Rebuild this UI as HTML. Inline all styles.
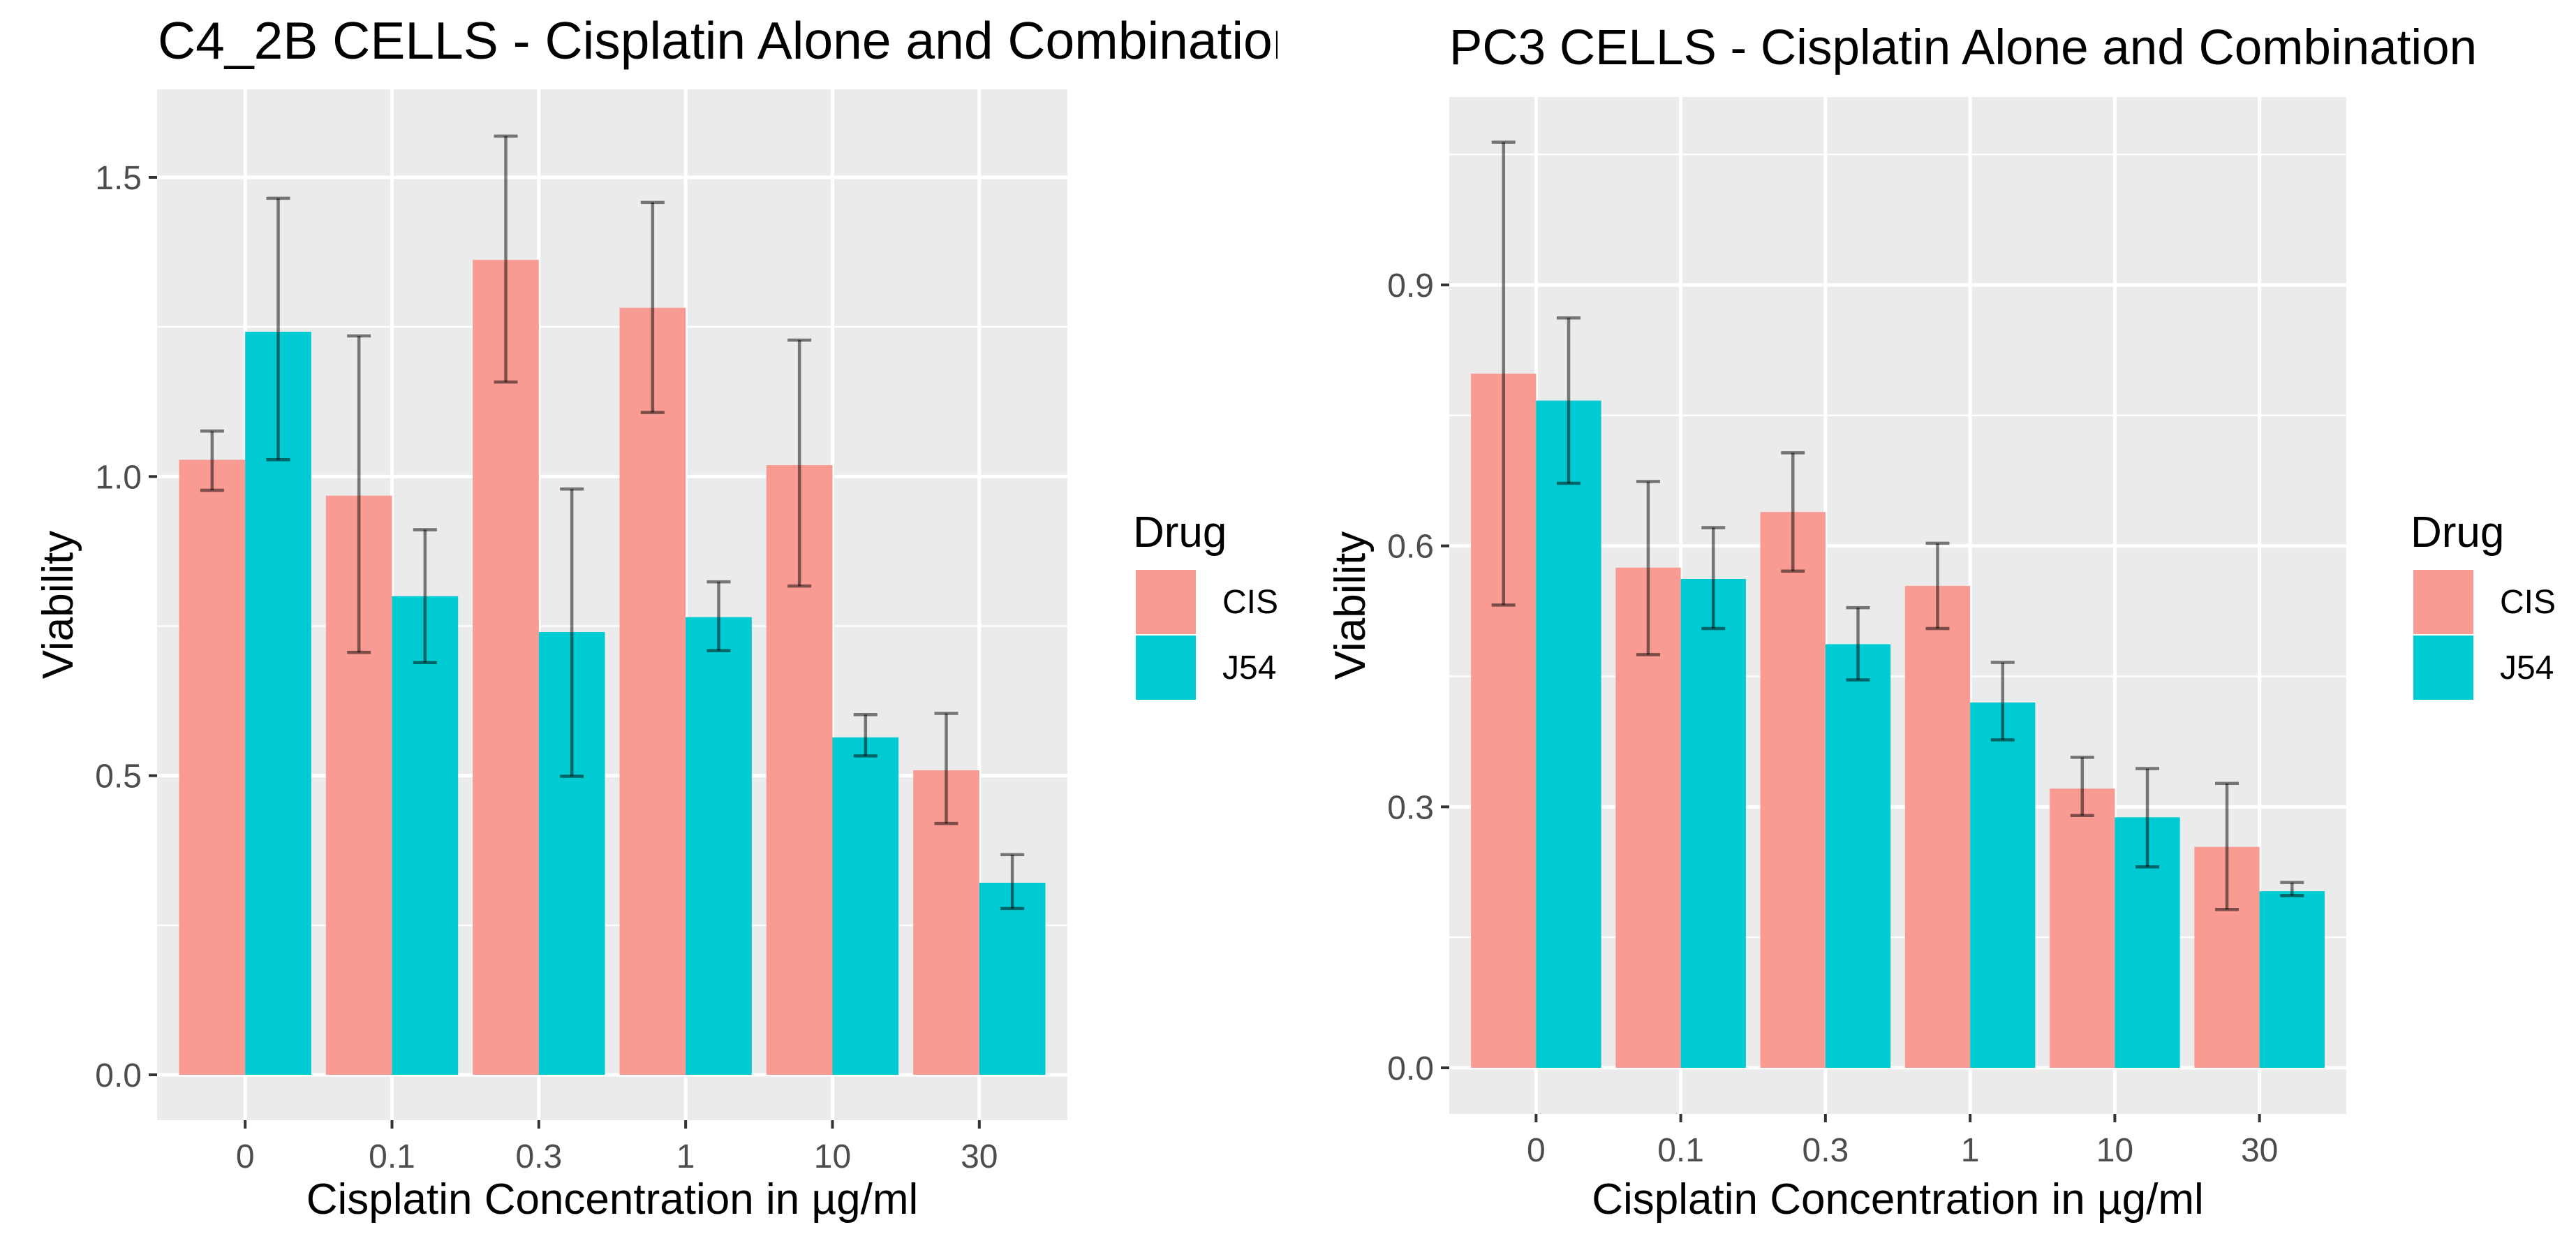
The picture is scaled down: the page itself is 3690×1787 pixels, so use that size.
<!DOCTYPE html>
<html><head><meta charset="utf-8"><style>
html,body{margin:0;padding:0;background:#fff;}
svg{display:block;font-family:"Liberation Sans",Arial,sans-serif;}
</style></head><body>
<svg id="fig" width="3690" height="1787" viewBox="0 0 3690 1787" xmlns="http://www.w3.org/2000/svg"></svg>
<script>
const categories = ["0","0.1","0.3","1","10","30"];
const leftCIS = [1.028,0.968,1.362,1.282,1.019,0.509];
const leftCISlo = [0.977,0.706,1.158,1.107,0.817,0.42];
const leftCIShi = [1.076,1.235,1.569,1.458,1.228,0.604];
const leftJ54 = [1.242,0.8,0.74,0.765,0.564,0.321];
const leftJ54lo = [1.028,0.689,0.499,0.709,0.533,0.278];
const leftJ54hi = [1.465,0.911,0.979,0.824,0.602,0.368];
const leftTicks = [0,0.5,1.0,1.5];
const leftTickLabels = ["0.0","0.5","1.0","1.5"];
const leftMinor = [0.25,0.75,1.25];

const rightCIS = [0.798,0.575,0.639,0.554,0.321,0.254];
const rightCISlo = [0.532,0.475,0.571,0.505,0.29,0.182];
const rightCIShi = [1.064,0.674,0.707,0.603,0.357,0.327];
const rightJ54 = [0.767,0.562,0.487,0.42,0.288,0.203];
const rightJ54lo = [0.672,0.505,0.446,0.377,0.231,0.198];
const rightJ54hi = [0.862,0.621,0.529,0.466,0.344,0.213];
const rightTicks = [0,0.3,0.6,0.9];
const rightTickLabels = ["0.0","0.3","0.6","0.9"];
const rightMinor = [0.15,0.45,0.75,1.05];

const NS = "http://www.w3.org/2000/svg";
const svg = document.getElementById('fig');
function mk(tag, attrs, parent, text){
  const e = document.createElementNS(NS, tag);
  for (const k in attrs) e.setAttribute(k, attrs[k]);
  if (text !== undefined) e.textContent = text;
  (parent||svg).appendChild(e);
  return e;
}
function panel(cfg){
  const g = mk('g', {});
  
  
  const {x0,x1,yTop,yBot,y0px,pxPerUnit} = cfg;
  const yS = v => y0px - v*pxPerUnit;
  const step = (x1-x0)/(categories.length+0.2);
  const xS = i => x0 + (i+0.6)*step;
  const bg = mk('rect',{x:x0,y:yTop,width:x1-x0,height:yBot-yTop,fill:'#ebebeb'},g);
  
  
  cfg.minor.forEach(v=>{
    const l = mk('line',{x1:x0,x2:x1,y1:yS(v),y2:yS(v),stroke:'#fff','stroke-width':2.5},g);
    
    
  });
  cfg.ticks.forEach((v,i)=>{
    const l = mk('line',{x1:x0,x2:x1,y1:yS(v),y2:yS(v),stroke:'#fff','stroke-width':5},g);
    
    
    const tk = mk('line',{x1:x0-12,x2:x0,y1:yS(v),y2:yS(v),stroke:'#333','stroke-width':4},g);
    
    
    const t = mk('text',{x:x0-22,y:yS(v)+17,'text-anchor':'end','font-size':48,fill:'#4d4d4d'},g,cfg.tickLabels[i]);
    
    
  });
  categories.forEach((c,i)=>{
    const l = mk('line',{x1:xS(i),x2:xS(i),y1:yTop,y2:yBot,stroke:'#fff','stroke-width':5},g);
    
    
    const tk = mk('line',{x1:xS(i),x2:xS(i),y1:yBot,y2:yBot+12,stroke:'#333','stroke-width':4},g);
    
    
    const t = mk('text',{x:xS(i),y:yBot+68,'text-anchor':'middle','font-size':48,fill:'#4d4d4d'},g,c);
    
    
  });
  const bw = step*0.45;
  const series = [
    {vals:cfg.cis,lo:cfg.cisLo,hi:cfg.cisHi,col:'#f99a93',off:-1,nm:'cis'},
    {vals:cfg.j54,lo:cfg.j54Lo,hi:cfg.j54Hi,col:'#00cbd2',off:0,nm:'j54'}];
  series.forEach(s=>{
    s.vals.forEach((v,i)=>{
      const bx = xS(i)+s.off*bw;
      const r = mk('rect',{x:bx,y:yS(v),width:bw,height:yS(0)-yS(v),fill:s.col},g);
      
      
    });
  });
  series.forEach(s=>{
    s.vals.forEach((v,i)=>{
      const cx = xS(i)+s.off*bw+bw/2;
      const eg = mk('g',{stroke:'#000','stroke-opacity':0.5,'stroke-width':4.5},g);
      
      
      mk('line',{x1:cx,x2:cx,y1:yS(s.hi[i]),y2:yS(s.lo[i])},eg);
      mk('line',{x1:cx-17,x2:cx+17,y1:yS(s.hi[i]),y2:yS(s.hi[i])},eg);
      mk('line',{x1:cx-17,x2:cx+17,y1:yS(s.lo[i]),y2:yS(s.lo[i])},eg);
    });
  });
  const xt = mk('text',{x:(x0+x1)/2,y:1738,'text-anchor':'middle','font-size':62,fill:'#000'},g,'Cisplatin Concentration in µg/ml');
  
  
  const cy = (yTop+yBot)/2;
  const yt = mk('text',{x:0,y:0,transform:`translate(${cfg.ylabX},${cy}) rotate(-90)`,'text-anchor':'middle','font-size':62,fill:'#000'},g,'Viability');
  
  
  const tt = mk('text',{x:cfg.titleX,y:cfg.titleY,'font-size':cfg.titleSize,fill:'#000'},g,cfg.title);
  
  
  const lg = mk('g',{},g);
  
  
  const lt = mk('text',{x:cfg.legX,y:783,'font-size':62,fill:'#000'},lg,'Drug');
  
  
  [['CIS','#f99a93',816],['J54','#00cbd2',910]].forEach(([lab,col,y])=>{
    const r = mk('rect',{x:cfg.legX+4,y:y,width:86,height:92,fill:col},lg);
    
    
    const t = mk('text',{x:cfg.legX+128,y:y+62,'font-size':48,fill:'#000'},lg,lab);
    
    
  });
}
panel({name:'c4-2b-panel',x0:225,x1:1529,yTop:128,yBot:1604,y0px:1539,pxPerUnit:856.7,
  ticks:leftTicks,tickLabels:leftTickLabels,minor:leftMinor,
  cis:leftCIS,cisLo:leftCISlo,cisHi:leftCIShi,j54:leftJ54,j54Lo:leftJ54lo,j54Hi:leftJ54hi,
  ylabX:104,title:'C4_2B CELLS - Cisplatin Alone and Combination',titleX:226,titleY:84,titleSize:75,legX:1623});
panel({name:'pc3-panel',x0:2076,x1:3361,yTop:139,yBot:1595,y0px:1529,pxPerUnit:1245.6,
  ticks:rightTicks,tickLabels:rightTickLabels,minor:rightMinor,
  cis:rightCIS,cisLo:rightCISlo,cisHi:rightCIShi,j54:rightJ54,j54Lo:rightJ54lo,j54Hi:rightJ54hi,
  ylabX:1955,title:'PC3 CELLS - Cisplatin Alone and Combination',titleX:2076,titleY:92,titleSize:71,legX:3453});
const m = mk('rect',{x:1830,y:0,width:235,height:120,fill:'#fff'});


</script>
</body></html>
